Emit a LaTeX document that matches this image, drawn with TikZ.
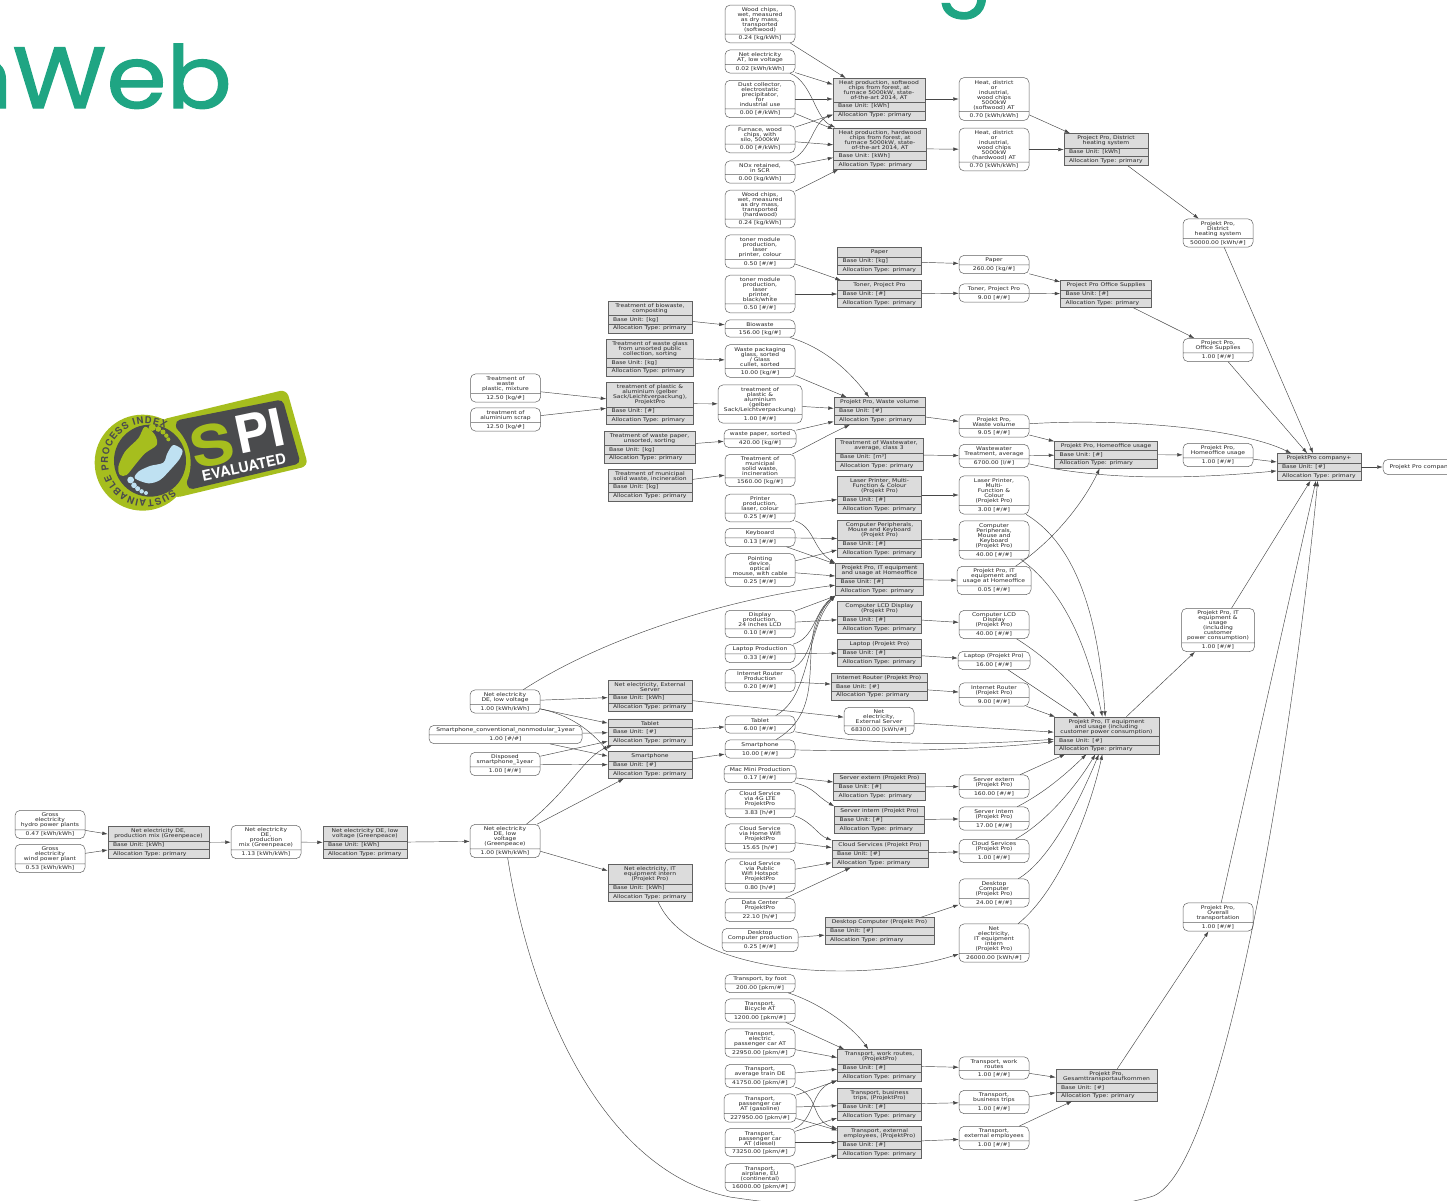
\documentclass[tikz,border=0pt]{standalone}
\usepackage{fontspec}
\setmainfont[FakeStretch=1.18]{DejaVu Sans}
\newfontfamily\logofont[FakeBold=1.4]{Poppins}
\newfontfamily\badgefont{TeX Gyre Heros}
\usetikzlibrary{
	positioning
	,arrows.meta
	,shapes.multipart
	,decorations.text
}
\definecolor{logogreen}{HTML}{1FA583}
\definecolor{badgelime}{HTML}{A6BE1E}
\definecolor{badgedark}{HTML}{4A4B4D}
\definecolor{badgeblue}{HTML}{BFE1F2}
\definecolor{procfill}{HTML}{DCDCDC}
\newcommand{\lnstrut}{\rule[-1.2pt]{0pt}{5.1pt}}
\newcommand{\topstrut}{\rule{0pt}{4.6pt}}
\newcommand{\botstrut}{\rule[-.3pt]{0pt}{.3pt}}
\newcommand{\flowtext}[2]{\topstrut#1\botstrut\nodepart{two}\lnstrut#2}
\newcommand{\proctext}[2]{\topstrut#1\botstrut\nodepart{two}\lnstrut Base Unit: [#2]\nodepart{three}\lnstrut Allocation Type: primary}
\newcommand{\nodefont}{\fontsize{5.1}{5}\selectfont\lineskiplimit-6pt\relax}
\tikzset{base node/.style={
	draw=black!62,
	text=black!85,
	line width=.5pt,
	align=center,
	font=\nodefont,
	inner ysep=1.6pt,
}}
\tikzset{flownode/.style={
	base node,
	rectangle split,
	rectangle split parts=2,
	rounded corners=5pt,
	fill=white,
	inner xsep=2pt,
	minimum width=70pt,
}}
\tikzset{procnode/.style={
	base node,
	rectangle split,
	rectangle split parts=3,
	rectangle split part align={center,left,left},
	fill=procfill,
	inner xsep=5pt,
	minimum width=84pt,
}}
\tikzset{
	>={Latex[length=5.5pt,width=3.6pt]}
	,link/.style={->, line width=.45pt, black!72}
}

\begin{document}
\begin{tikzpicture}[x=1pt, y=-1pt]
\clip (0,0) rectangle (1447,1200);

% title letters
\node[logogreen, inner sep=0, anchor=base east, xscale=1.11, font=\logofont\fontsize{87}{87}\selectfont] (title) at(232,108){nWeb};
\node[logogreen, inner sep=0, anchor=base, font=\logofont\fontsize{82}{82}\selectfont] (titleg) at(964,-3){g};

% badge
\begin{scope}[shift={(60,370)}, x=.3333pt, y=-.3333pt]
\fill[badgelime, rounded corners=7pt] (300,150) -- (680,58) -- (745,288) -- (340,385) -- cycle;
\fill[badgedark, rounded corners=5pt] (345,152) -- (668,88) -- (722,280) -- (385,360) -- cycle;
\fill[badgelime] (248,278) circle[radius=48pt];
\fill[badgedark] (270,272) circle[radius=36pt];
\fill[badgelime] plot[smooth cycle] coordinates {(175,290) (195,245) (235,205) (255,170) (285,195) (290,225) (255,250) (225,285) (200,315) (180,315)};
\foreach \x/\y/\r in {277/172/3.6, 295/177/2.8, 309/186/2.5, 319/197/2.2, 325/208/2}{
	\fill[badgelime] (\x,\y) circle[radius=\r pt];
}
\fill[badgeblue] plot[smooth cycle] coordinates {(367,240) (340,225) (322,250) (310,278) (270,288) (235,305) (225,325) (265,340) (300,330) (335,295) (360,265)};
\foreach \x/\y/\r in {212/330/3.4, 222/346/2.8, 233/356/2.5, 245/364/2.2, 258/369/2}{
	\fill[badgeblue] (\x,\y) circle[radius=\r pt];
}
\node[badgelime, inner sep=0, rotate=12, xscale=1.15, font=\badgefont\bfseries\fontsize{56}{56}\selectfont] (badges) at(458,224){S};
\node[white, inner sep=0, rotate=12, font=\badgefont\bfseries\fontsize{52}{52}\selectfont] (badgepi) at(600,183){PI};
\node[white, inner sep=0, rotate=12, font=\badgefont\bfseries\fontsize{14.5}{14.5}\selectfont] (badgeeval) at(552,292){EVALUATED};
\end{scope}
\begin{scope}[shift={(146,461.7)}, x=1pt, y=1pt]
\path[decorate, decoration={text along path, text color=badgedark, text align={fit to path}, text={|\badgefont\bfseries\fontsize{9.5}{9.5}\selectfont|SUSTAINABLE PROCESS INDEX}}]
	(-46:38) arc[start angle=-46, end angle=-300, radius=38];
\end{scope}

% flows
\begin{scope}[every node/.append style={flownode}]
\node(chipsoft) at(760,24){\flowtext{Wood chips,\\wet, measured\\as dry mass,\\transported\\(softwood)}{0.24 [kg/kWh]}};
\node(elat) at(760,61.5){\flowtext{Net electricity\\AT, low voltage}{0.02 [kWh/kWh]}};
\node(dust) at(760,99){\flowtext{Dust collector,\\electrostatic\\precipitator,\\for\\industrial use}{0.00 [\#/kWh]}};
\node(furnace) at(760,139){\flowtext{Furnace, wood\\chips, with\\silo, 5000kW}{0.00 [\#/kWh]}};
\node(nox) at(760,172){\flowtext{NOx retained,\\in SCR}{0.00 [kg/kWh]}};
\node(chiphard) at(760,209){\flowtext{Wood chips,\\wet, measured\\as dry mass,\\transported\\(hardwood)}{0.24 [kg/kWh]}};
\node(heatsoft) at(994,99){\flowtext{Heat, district\\or\\industrial,\\wood chips\\5000kW\\(softwood) AT}{0.70 [kWh/kWh]}};
\node(heathard) at(994,149.5){\flowtext{Heat, district\\or\\industrial,\\wood chips\\5000kW\\(hardwood) AT}{0.70 [kWh/kWh]}};
\node(districtflow) at(1218,233){\flowtext{Projekt Pro,\\District\\heating system}{50000.00 [kWh/\#]}};
\node(tonercol) at(760,251.5){\flowtext{toner module\\production,\\laser\\printer, colour}{0.50 [\#/\#]}};
\node(tonerbw) at(760,294){\flowtext{toner module\\production,\\laser\\printer,\\black/white}{0.50 [\#/\#]}};
\node(paperflow) at(994,264.5){\flowtext{Paper}{260.00 [kg/\#]}};
\node(tonerflow) at(994,293){\flowtext{Toner, Project Pro}{9.00 [\#/\#]}};
\node(officeflow) at(1218,350){\flowtext{Project Pro,\\Office Supplies}{1.00 [\#/\#]}};
\node(bioflow) at(760,328.5){\flowtext{Biowaste}{156.00 [kg/\#]}};
\node(glassflow) at(760,361){\flowtext{Waste packaging\\glass, sorted\\/ Glass\\cullet, sorted}{10.00 [kg/\#]}};
\node[minimum width=84pt](plasticflow) at(760,404){\flowtext{treatment of\\plastic \&\\aluminium\\(gelber\\Sack/Leichtverpackung)}{1.00 [\#/\#]}};
\node(mixture) at(505.5,388){\flowtext{Treatment of\\waste\\plastic, mixture}{12.50 [kg/\#]}};
\node(scrap) at(505.5,419.5){\flowtext{treatment of\\aluminium scrap}{12.50 [kg/\#]}};
\node[minimum width=72pt](paperwasteflow) at(760,438.5){\flowtext{waste paper, sorted}{420.00 [kg/\#]}};
\node(municflow) at(760,470.5){\flowtext{Treatment of\\municipal\\solid waste,\\incineration}{1560.00 [kg/\#]}};
\node(wasteflow) at(994,426){\flowtext{Projekt Pro,\\Waste volume}{9.05 [\#/\#]}};
\node(wwflow) at(994,456){\flowtext{Wastewater\\Treatment, average}{6700.00 [l/\#]}};
\node(homeflow) at(1218,455){\flowtext{Projekt Pro,\\Homeoffice usage}{1.00 [\#/\#]}};
\node(printer) at(760,508){\flowtext{Printer\\production,\\laser, colour}{0.25 [\#/\#]}};
\node(laserflow) at(994,495){\flowtext{Laser Printer,\\Multi-\\Function \&\\Colour\\(Projekt Pro)}{3.00 [\#/\#]}};
\node(keyboard) at(760,537.5){\flowtext{Keyboard}{0.13 [\#/\#]}};
\node(periphflow) at(994,540){\flowtext{Computer\\Peripherals,\\Mouse and\\Keyboard\\(Projekt Pro)}{40.00 [\#/\#]}};
\node(pointing) at(760,570){\flowtext{Pointing\\device,\\optical\\mouse, with cable}{0.25 [\#/\#]}};
\node[minimum width=74pt](itflow) at(994,580.5){\flowtext{Projekt Pro, IT\\equipment and\\usage at Homeoffice}{0.05 [\#/\#]}};
\node(display) at(760,624){\flowtext{Display\\production,\\24 inches LCD}{0.10 [\#/\#]}};
\node(lcdflow) at(994,624.5){\flowtext{Computer LCD\\Display\\(Projekt Pro)}{40.00 [\#/\#]}};
\node(laptop) at(760,653.5){\flowtext{Laptop Production}{0.33 [\#/\#]}};
\node[minimum width=72pt](laptopflow) at(994,660.5){\flowtext{Laptop (Projekt Pro)}{16.00 [\#/\#]}};
\node(router) at(760,680.5){\flowtext{Internet Router\\Production}{0.20 [\#/\#]}};
\node(routerflow) at(994,694.5){\flowtext{Internet Router\\(Projekt Pro)}{9.00 [\#/\#]}};
\node(elde) at(505,701.5){\flowtext{Net electricity\\DE, low voltage}{1.00 [kWh/kWh]}};
\node(extflow) at(879,721){\flowtext{Net\\electricity,\\External Server}{68300.00 [kWh/\#]}};
\node(tabletflow) at(760,724.5){\flowtext{Tablet}{6.00 [\#/\#]}};
\node[minimum width=153pt](conv) at(505.5,734.5){\flowtext{Smartphone\_conventional\_nonmodular\_1year}{1.00 [\#/\#]}};
\node(smartflow) at(760,749){\flowtext{Smartphone}{10.00 [\#/\#]}};
\node(disposed) at(505,764){\flowtext{Disposed\\smartphone\_1year}{1.00 [\#/\#]}};
\node[minimum width=72pt](macmini) at(760,774){\flowtext{Mac Mini Production}{0.17 [\#/\#]}};
\node(serverextflow) at(994,786.5){\flowtext{Server extern\\(Projekt Pro)}{160.00 [\#/\#]}};
\node(cloudlte) at(760,803.5){\flowtext{Cloud Service\\via 4G LTE\\ProjektPro}{3.83 [h/\#]}};
\node(serverintflow) at(994,818.5){\flowtext{Server intern\\(Projekt Pro)}{17.00 [\#/\#]}};
\node(hydro) at(50,824.5){\flowtext{Gross\\electricity\\hydro power plants}{0.47 [kWh/kWh]}};
\node(cloudhome) at(760,838){\flowtext{Cloud Service\\via Home Wifi\\ProjektPro}{15.65 [h/\#]}};
\node(gp) at(505,841){\flowtext{Net electricity\\DE, low\\voltage\\(Greenpeace)}{1.00 [kWh/kWh]}};
\node(mixflow) at(266,842){\flowtext{Net electricity\\DE,\\production\\mix (Greenpeace)}{1.13 [kWh/kWh]}};
\node(cloudflow) at(994,851){\flowtext{Cloud Services\\(Projekt Pro)}{1.00 [\#/\#]}};
\node(wind) at(50,858.5){\flowtext{Gross\\electricity\\wind power plant}{0.53 [kWh/kWh]}};
\node(cloudpub) at(760,875.5){\flowtext{Cloud Service\\via Public\\Wifi Hotspot\\ProjektPro}{0.80 [h/\#]}};
\node(desktopflow) at(994,893){\flowtext{Desktop\\Computer\\(Projekt Pro)}{24.00 [\#/\#]}};
\node(datacenter) at(760,910){\flowtext{Data Center\\ProjektPro}{22.10 [h/\#]}};
\node[minimum width=76pt](desktopprod) at(760,940){\flowtext{Desktop\\Computer production}{0.25 [\#/\#]}};
\node(inhouseflow) at(994,943){\flowtext{Net\\electricity,\\IT equipment\\intern\\(Projekt Pro)}{26000.00 [kWh/\#]}};
\node[minimum width=73pt](itover) at(1218,630){\flowtext{Projekt Pro, IT\\equipment \&\\usage\\(including\\customer\\power consumption)}{1.00 [\#/\#]}};
\node(transflow) at(1218,917){\flowtext{Projekt Pro,\\Overall\\transportation}{1.00 [\#/\#]}};
\node(foot) at(760,983.5){\flowtext{Transport, by foot}{200.00 [pkm/\#]}};
\node(bicycle) at(760,1010.5){\flowtext{Transport,\\Bicycle AT}{1200.00 [pkm/\#]}};
\node(ecar) at(760,1043){\flowtext{Transport,\\electric\\passenger car AT}{22950.00 [pkm/\#]}};
\node(workflow) at(994,1068){\flowtext{Transport, work\\routes}{1.00 [\#/\#]}};
\node(train) at(760,1076){\flowtext{Transport,\\average train DE}{41750.00 [pkm/\#]}};
\node(bizflow) at(994,1102){\flowtext{Transport,\\business trips}{1.00 [\#/\#]}};
\node[minimum width=72pt](gascar) at(760,1108){\flowtext{Transport,\\passenger car\\AT (gasoline)}{227950.00 [pkm/\#]}};
\node(extempflow) at(994,1138){\flowtext{Transport,\\external employees}{1.00 [\#/\#]}};
\node(dieselcar) at(760,1142.5){\flowtext{Transport,\\passenger car\\AT (diesel)}{73250.00 [pkm/\#]}};
\node(airplane) at(760,1177.5){\flowtext{Transport,\\airplane, EU\\(continental)}{16000.00 [pkm/\#]}};
\end{scope}

\node[base node, rounded corners=5pt, fill=white, minimum width=80pt, minimum height=15pt](companyflow) at(1423,467){Projekt Pro company+};

% processes
\begin{scope}[every node/.append style={procnode}]
\node[minimum width=92pt](heatprocsoft) at(879,99){\proctext{Heat production, softwood\\chips from forest, at\\furnace 5000kW, state-\\of-the-art 2014, AT}{kWh}};
\node[minimum width=93pt](heatprochard) at(880,148.5){\proctext{Heat production, hardwood\\chips from forest, at\\furnace 5000kW, state-\\of-the-art 2014, AT}{kWh}};
\node(districtproc) at(1106,149.5){\proctext{Project Pro, District\\heating system}{kWh}};
\node(paperproc) at(879.5,261){\proctext{Paper}{kg}};
\node(tonerproc) at(879.5,294){\proctext{Toner, Project Pro}{\#}};
\node[minimum width=91pt](officeproc) at(1106,294){\proctext{Project Pro Office Supplies}{\#}};
\node(bioproc) at(650,317){\proctext{Treatment of biowaste,\\composting}{kg}};
\node[minimum width=87pt](glassproc) at(650,357.5){\proctext{Treatment of waste glass\\from unsorted public\\collection, sorting}{kg}};
\node[minimum width=87pt](plasticproc) at(650,403.5){\proctext{treatment of plastic \&\\aluminium (gelber\\Sack/Leichtverpackung),\\ProjektPro}{\#}};
\node[minimum width=91pt](wasteproc) at(879.5,411){\proctext{Projekt Pro, Waste volume}{\#}};
\node[minimum width=91pt](paperwasteproc) at(649.5,447){\proctext{Treatment of waste paper,\\unsorted, sorting}{kg}};
\node[minimum width=88pt](wwproc) at(879,454.5){\proctext{Treatment of Wastewater,\\average, class 3}{m³}};
\node[minimum width=103pt](homeproc) at(1106,454.5){\proctext{Projekt Pro, Homeoffice usage}{\#}};
\node(company) at(1319,467){\proctext{ProjektPro company+}{\#}};
\node(municproc) at(650,485){\proctext{Treatment of municipal\\solid waste, incineration}{kg}};
\node(laserproc) at(879.5,495){\proctext{Laser Printer, Multi-\\Function \& Colour\\(Projekt Pro)}{\#}};
\node(periphproc) at(879.5,539){\proctext{Computer Peripherals,\\Mouse and Keyboard\\(Projekt Pro)}{\#}};
\node[minimum width=88pt](itproc) at(879.5,579.5){\proctext{Projekt Pro, IT equipment\\and usage at Homeoffice}{\#}};
\node(lcdproc) at(879.5,617.5){\proctext{Computer LCD Display\\(Projekt Pro)}{\#}};
\node(laptopproc) at(879.5,653){\proctext{Laptop (Projekt Pro)}{\#}};
\node[minimum width=96pt](routerproc) at(879,686.5){\proctext{Internet Router (Projekt Pro)}{\#}};
\node(extproc) at(650,696){\proctext{Net electricity, External\\Server}{kWh}};
\node(tabletproc) at(650,732){\proctext{Tablet}{\#}};
\node[minimum width=105pt](itmain) at(1106.5,735.5){\proctext{Projekt Pro, IT equipment\\and usage (including\\customer power consumption)}{\#}};
\node(smartproc) at(650,765){\proctext{Smartphone}{\#}};
\node[minimum width=92pt](serverextproc) at(879.5,787){\proctext{Server extern (Projekt Pro)}{\#}};
\node[minimum width=90pt](serverintproc) at(879.5,820){\proctext{Server intern (Projekt Pro)}{\#}};
\node[minimum width=101pt](mixproc) at(158.5,842.5){\proctext{Net electricity DE,\\production mix (Greenpeace)}{kWh}};
\node(lowproc) at(365,842.5){\proctext{Net electricity DE, low\\voltage (Greenpeace)}{kWh}};
\node[minimum width=96pt](cloudproc) at(880,854){\proctext{Cloud Services (Projekt Pro)}{\#}};
\node(inhouseproc) at(650,883){\proctext{Net electricity, IT\\equipment intern\\(Projekt Pro)}{kWh}};
\node[minimum width=109pt](desktopproc) at(879.5,931){\proctext{Desktop Computer (Projekt Pro)}{\#}};
\node(workproc) at(879.5,1065.5){\proctext{Transport, work routes,\\(ProjektPro)}{\#}};
\node[minimum width=101pt](totalproc) at(1106.5,1085){\proctext{Projekt Pro,\\Gesamttransportaufkommen}{\#}};
\node(bizproc) at(879.5,1104.5){\proctext{Transport, business\\trips, (ProjektPro)}{\#}};
\node(extempproc) at(879.5,1142.5){\proctext{Transport, external\\employees, (ProjektPro)}{\#}};
\end{scope}

\foreach \x/\y in {%
chipsoft/heatprocsoft, elat/heatprocsoft, dust/heatprocsoft, furnace/heatprocsoft%
,dust/heatprochard, furnace/heatprochard, nox/heatprochard, chiphard/heatprochard%
,heatprocsoft/heatsoft, heatprochard/heathard, heatsoft/districtproc, heathard/districtproc%
,districtproc/districtflow, districtflow/company%
,tonercol/tonerproc, tonerbw/tonerproc, paperproc/paperflow, tonerproc/tonerflow%
,paperflow/officeproc, tonerflow/officeproc, officeproc/officeflow, officeflow/company%
,bioproc/bioflow, glassproc/glassflow, plasticproc/plasticflow, mixture/plasticproc, scrap/plasticproc%
,paperwasteproc/paperwasteflow, municproc/municflow%
,glassflow/wasteproc, plasticflow/wasteproc, paperwasteflow/wasteproc%
,wasteproc/wasteflow, wasteflow/homeproc, wwproc/wwflow, wwflow/homeproc%
,homeproc/homeflow, homeflow/company, company/companyflow%
,printer/laserproc, laserproc/laserflow, keyboard/periphproc, periphproc/periphflow%
,pointing/periphproc, pointing/itproc, keyboard/itproc, display/itproc, itproc/itflow%
,display/lcdproc, lcdproc/lcdflow, laptop/laptopproc, laptopproc/laptopflow%
,router/routerproc, routerproc/routerflow%
,laptopflow/itmain, routerflow/itmain, extflow/itmain, serverextflow/itmain%
,itmain/itover, itover/company, transflow/company%
,elde/extproc, elde/tabletproc, conv/tabletproc, conv/smartproc, disposed/tabletproc, disposed/smartproc%
,gp/smartproc, gp/inhouseproc, tabletproc/tabletflow, smartproc/smartflow, extproc/extflow%
,hydro/mixproc, wind/mixproc, mixproc/mixflow, mixflow/lowproc, lowproc/gp%
,macmini/serverextproc, cloudhome/cloudproc, cloudpub/cloudproc, datacenter/cloudproc%
,serverextproc/serverextflow, serverintproc/serverintflow, cloudproc/cloudflow%
,desktopprod/desktopproc, desktopproc/desktopflow%
,bicycle/workproc, ecar/workproc, train/workproc, gascar/workproc%
,gascar/bizproc, dieselcar/bizproc, gascar/extempproc, dieselcar/extempproc, airplane/extempproc%
,workproc/workflow, bizproc/bizflow, extempproc/extempflow%
,workflow/totalproc, bizflow/totalproc, extempflow/totalproc, totalproc/transflow%
}{
	\draw[link] (\x) -- (\y);
}

% curved edges
\draw[link] (elat) .. controls (812,82) and (815,118) .. (heatprochard);
\draw[link] (nox) .. controls (812,152) and (812,122) .. (heatprocsoft);
\draw[link] (bioflow) .. controls (825,348) and (850,372) .. (wasteproc);
\draw[link] (municflow) .. controls (812,444) and (830,434) .. (wasteproc);
\draw[link] (wasteflow) .. controls (1120,418) and (1240,428) .. (company);
\draw[link] (wwflow) .. controls (1110,482) and (1200,478) .. (company);
\draw[link] (itflow) .. controls (1055,540) and (1085,500) .. (homeproc);
\draw[link] (printer) .. controls (815,528) and (812,548) .. (itproc.north west);
\draw[link] (laptop) .. controls (815,638) and (815,610) .. (itproc.south west);
\draw[link] (router) .. controls (815,660) and (812,615) .. (itproc.south west);
\draw[link] (tabletflow) .. controls (812,695) and (805,630) .. (itproc.south west);
\draw[link] (smartflow) .. controls (835,705) and (790,635) .. (itproc.south west);
\draw[link] (elde) .. controls (600,640) and (720,600) .. (itproc);
\draw[link] (laserflow) .. controls (1085,550) and (1100,640) .. (itmain);
\draw[link] (periphflow) .. controls (1070,595) and (1090,660) .. (itmain);
\draw[link] (lcdflow) .. controls (1050,660) and (1075,685) .. (itmain);
\draw[link] (tabletflow) .. controls (860,745) and (960,746) .. (itmain);
\draw[link] (smartflow) .. controls (880,752) and (980,750) .. (itmain);
\draw[link] (serverintflow) .. controls (1050,790) and (1075,765) .. (itmain);
\draw[link] (cloudflow) .. controls (1050,820) and (1080,780) .. (itmain);
\draw[link] (desktopflow) .. controls (1050,860) and (1080,800) .. (itmain);
\draw[link] (inhouseflow) .. controls (1060,890) and (1090,810) .. (itmain);
\draw[link] (inhouseproc) .. controls (690,975) and (860,985) .. (inhouseflow);
\draw[link] (elde) .. controls (570,715) and (590,730) .. (smartproc.north west);
\draw[link] (gp) .. controls (570,790) and (585,755) .. (tabletproc);
\draw[link] (macmini) .. controls (815,788) and (815,795) .. (serverintproc.north west);
\draw[link] (cloudlte) .. controls (812,822) and (818,835) .. (cloudproc.north west);
\draw[link] (foot) .. controls (825,1005) and (855,1030) .. (workproc);
\draw[link] (dieselcar) .. controls (815,1120) and (810,1090) .. (workproc);
\draw[link] (train) .. controls (820,1095) and (810,1120) .. (extempproc);
\draw[link] (gp) .. controls (530,1000) and (600,1170) .. (730,1197) .. controls (850,1215) and (1050,1225) .. (1150,1197) .. controls (1225,1180) and (1295,720) .. (company);
\end{tikzpicture}
\end{document}
